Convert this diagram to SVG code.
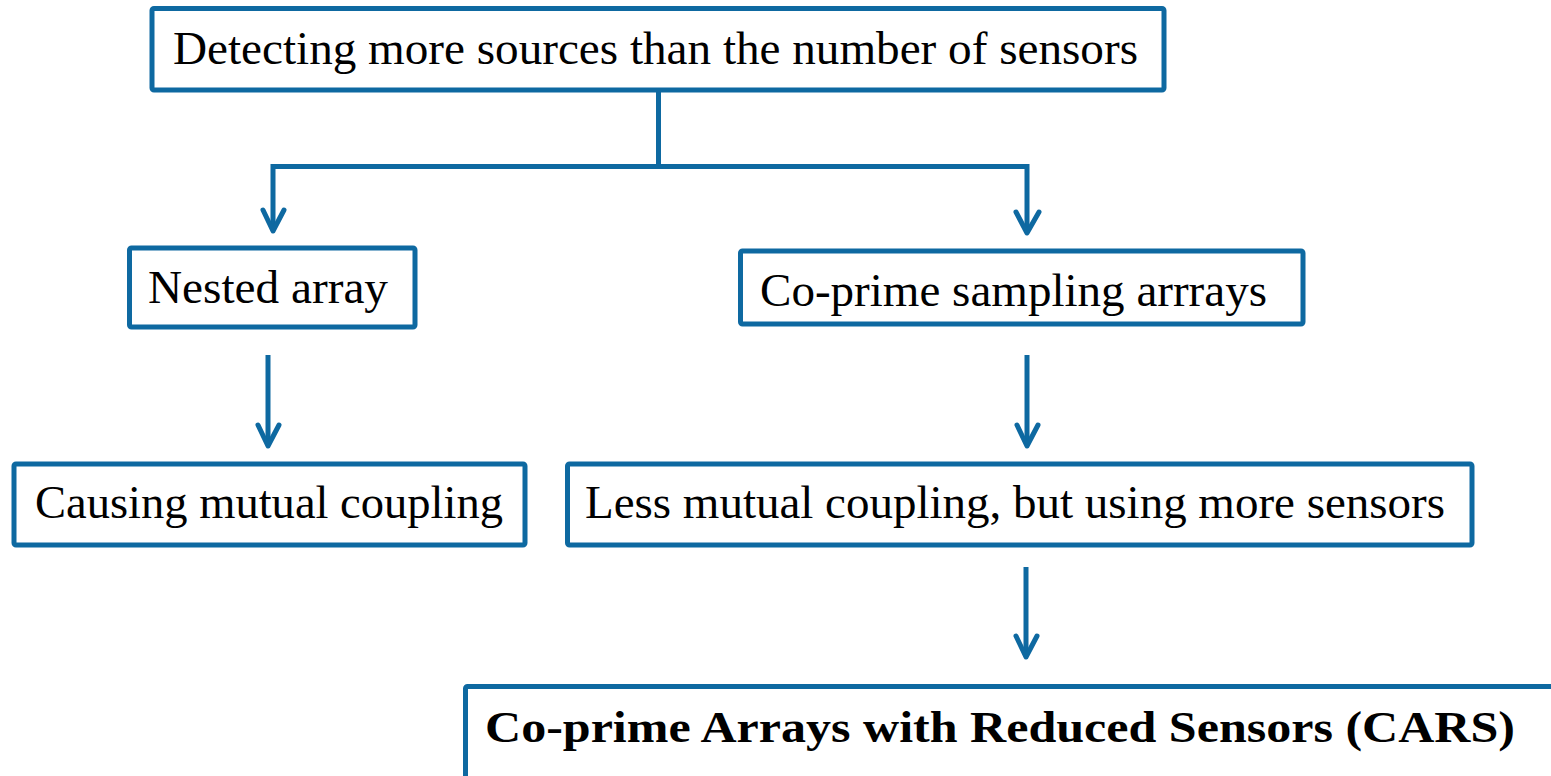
<svg xmlns="http://www.w3.org/2000/svg" width="1551" height="776" viewBox="0 0 1551 776">
<style>
.box{fill:#ffffff;stroke:#0e69a1;stroke-width:5;}
.lbl{font-family:"Liberation Serif","DejaVu Serif",serif;font-size:46px;fill:#000;}
.bold{font-weight:bold;font-size:45px;}
.con{fill:none;stroke:#0e69a1;stroke-width:5;stroke-linejoin:miter;}
.head{fill:none;stroke:#0e69a1;stroke-width:5;stroke-linecap:round;stroke-linejoin:round;}
</style>
<rect width="1551" height="776" fill="#ffffff"/>
<g id="connectors">
<path class="con" d="M658.5 91 V166.5"/>
<path class="con" d="M273 230 V166.5 H1027 V233"/>
<polyline class="head" points="263,210 273,231 284,210"/>
<polyline class="head" points="1016,212 1027,233 1039,212"/>
<path class="con" d="M268 355 V445"/>
<polyline class="head" points="258,425 268,446 279,425"/>
<path class="con" d="M1027 355 V445"/>
<polyline class="head" points="1017,425 1027,446 1038,425"/>
<path class="con" d="M1026 567 V656"/>
<polyline class="head" points="1016,636 1026,657 1037,636"/>
</g>
<g id="node-top">
<rect class="box" x="152" y="8.5" width="1012" height="81.5" rx="2"/>
<text class="lbl" x="173" y="64" textLength="965" lengthAdjust="spacingAndGlyphs">Detecting more sources than the number of sensors</text>
</g>
<g id="node-nested">
<rect class="box" x="129.5" y="248" width="285.5" height="79" rx="2"/>
<text class="lbl" x="148" y="303" textLength="240" lengthAdjust="spacingAndGlyphs">Nested array</text>
</g>
<g id="node-coprime">
<rect class="box" x="740.5" y="251" width="562.5" height="73" rx="2"/>
<text class="lbl" x="760" y="306" textLength="507" lengthAdjust="spacingAndGlyphs">Co-prime sampling arrrays</text>
</g>
<g id="node-causing">
<rect class="box" x="14" y="464" width="511" height="81" rx="2"/>
<text class="lbl" x="35" y="518" textLength="468" lengthAdjust="spacingAndGlyphs">Causing mutual coupling</text>
</g>
<g id="node-less">
<rect class="box" x="567.5" y="464" width="904.5" height="81" rx="2"/>
<text class="lbl" x="585" y="518" textLength="860" lengthAdjust="spacingAndGlyphs">Less mutual coupling, but using more sensors</text>
</g>
<g id="node-cars">
<rect class="box" x="465.5" y="686.5" width="1100" height="120" rx="2"/>
<text class="lbl bold" x="485" y="742" textLength="1030" lengthAdjust="spacingAndGlyphs">Co-prime Arrays with Reduced Sensors (CARS)</text>
</g>
</svg>
